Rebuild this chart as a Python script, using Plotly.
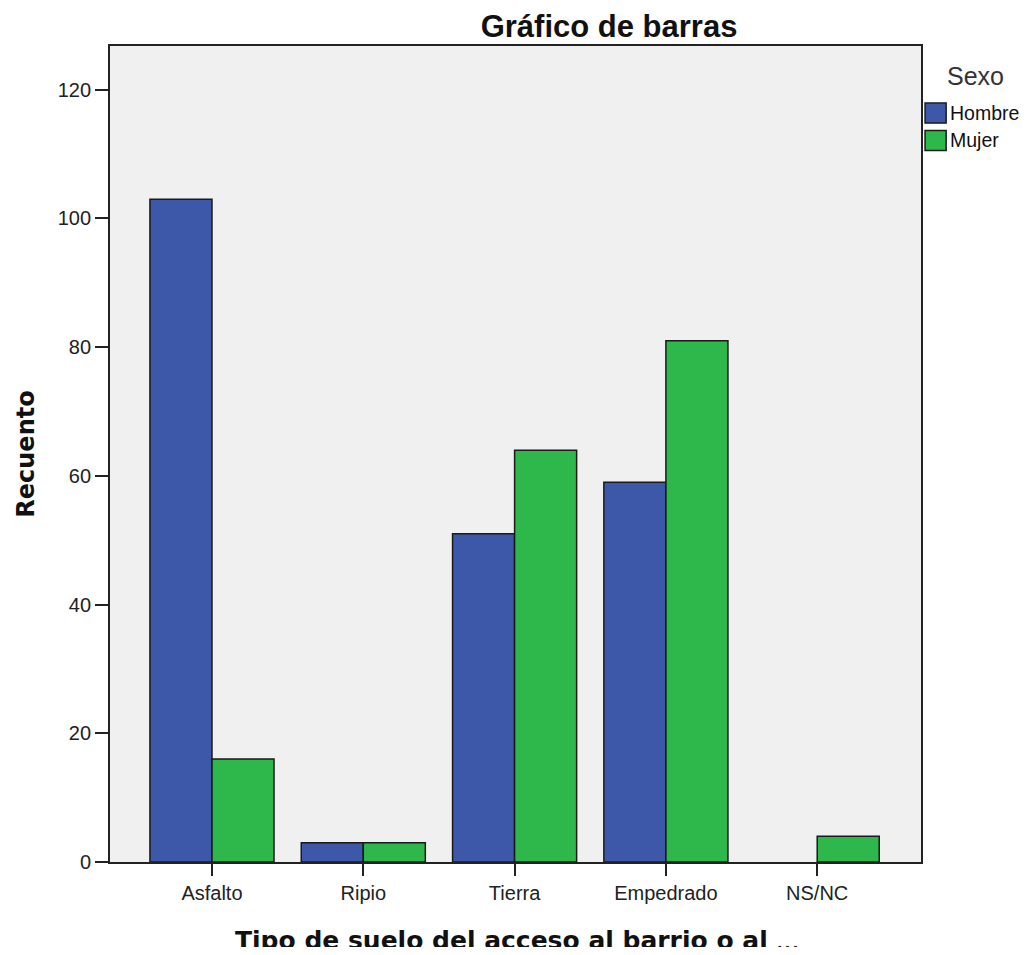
import plotly.graph_objects as go

categories = ["Asfalto", "Ripio", "Tierra", "Empedrado", "NS/NC"]
hombre = [103, 3, 51, 59, 0]
mujer = [16, 3, 64, 81, 4]
y_ticks = [0, 20, 40, 60, 80, 100, 120]
series = [("Hombre", hombre, "#3d58a8"), ("Mujer", mujer, "#2eb84b")]
EDGE = "#1a1a1a"

# no outline on empty bars
def outline(vals):
    return [1.5 if v > 0 else 0 for v in vals]

fig = go.Figure()
for name, vals, col in series:
    fig.add_trace(go.Bar(x=categories, y=vals, name=name, marker_color=col,
                         marker_line=dict(color=EDGE, width=outline(vals))))

# SPSS-style legend on the right: big swatches + labels
shapes, notes = [], [dict(text="Sexo", x=1.0296, y=0.963, font=dict(size=25, color="#333"))]
for i, (name, _, col) in enumerate(series):
    top = 0.930 - i * 0.0335
    shapes.append(dict(type="rect", xref="paper", yref="paper", x0=1.005, x1=1.031,
                       y0=top - 0.0245, y1=top, fillcolor=col, line=dict(color=EDGE, width=1.5)))
    notes.append(dict(text=name, x=1.0333, y=top - 0.0122, font=dict(size=19.5, color="#111")))
for a in notes:
    a.update(xanchor="left")
# x axis title, placed like the SPSS one
notes.append(dict(text="<b>Tipo de suelo del acceso al barrio o al</b> ...", x=0.502, y=-0.0956,
                  xanchor="center", font=dict(family="DejaVu Sans, Verdana", size=25, color="#111")))
for a in notes:
    a.update(xref="paper", yref="paper", yanchor="middle", showarrow=False)

fig.update_layout(
    width=1011, height=939, showlegend=False,
    barmode="group", bargap=0.18, bargroupgap=0,
    paper_bgcolor="white", plot_bgcolor="#f0f0f0",
    font=dict(family="Liberation Sans, Arial", color="#222", size=20),
    margin=dict(l=102, r=98, t=38, b=85),
    title=dict(text="<b>Gráfico de barras</b>", x=0.5945, xanchor="center", y=0.992, yanchor="top",
               font=dict(size=31, color="#111")),
    xaxis=dict(type="category", range=[-0.674, 4.686], showline=True, linecolor="#222", linewidth=1.8,
               mirror=True, ticks="outside", ticklen=12, tickwidth=1.5, tickcolor="#222",
               tickfont=dict(size=20, color="#222"), automargin=False),
    yaxis=dict(range=[0, 126.8], tickvals=y_ticks, showgrid=False, zeroline=False,
               showline=True, linecolor="#222", linewidth=1.8, mirror=True,
               ticks="outside", ticklen=13, tickwidth=1.5, tickcolor="#222",
               tickfont=dict(size=20, color="#222"), automargin=False,
               title=dict(text="<b>Recuento</b>", standoff=16,
                          font=dict(family="DejaVu Sans, Verdana", size=24, color="#111"))),
    shapes=shapes,
    annotations=notes,
)

fig.write_html("out.html")
